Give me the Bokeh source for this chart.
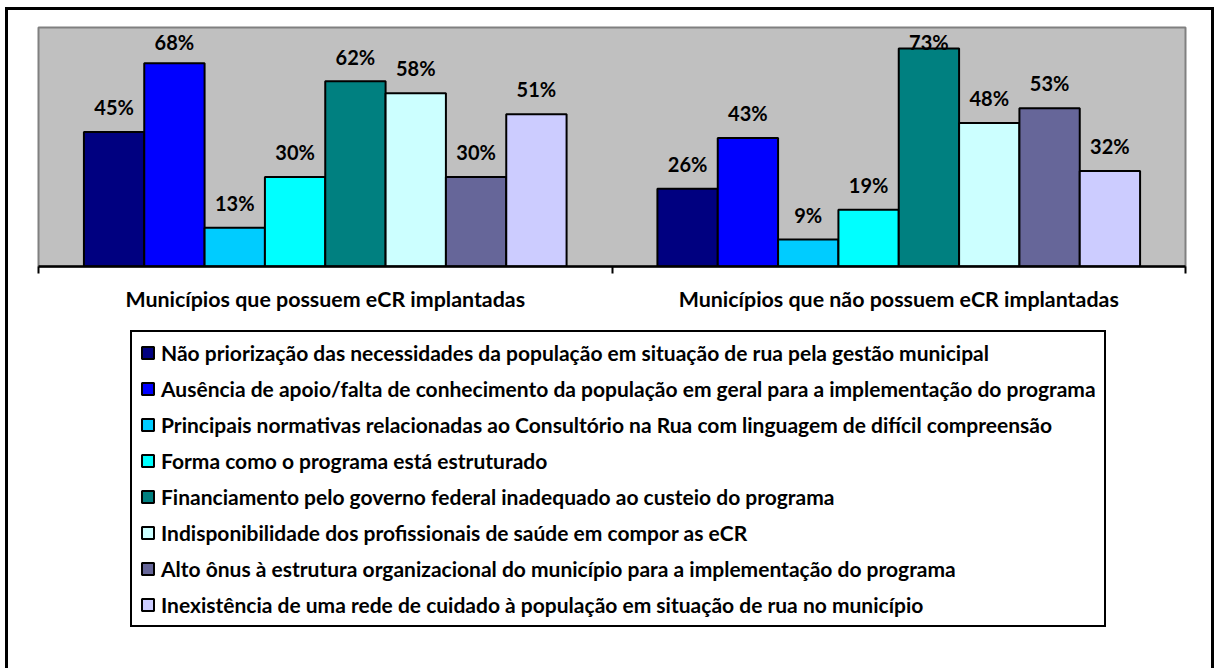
from bokeh.plotting import figure
from bokeh.layouts import column
from bokeh.models import (ColumnDataSource, LinearAxis, FixedTicker, Legend, LegendItem,
                          Range1d)
from bokeh.core.properties import value
from bokeh.embed import file_html
from bokeh.resources import INLINE

categories = ["Municípios que possuem eCR implantadas",
              "Municípios que não possuem eCR implantadas"]
series_names = [
    "Não priorização das necessidades da população em situação de rua pela gestão municipal",
    "Ausência de apoio/falta de conhecimento da população em geral para a implementação do programa",
    "Principais normativas relacionadas ao Consultório na Rua com linguagem de difícil compreensão",
    "Forma como o programa está estruturado",
    "Financiamento pelo governo federal inadequado ao custeio do programa",
    "Indisponibilidade dos profissionais de saúde em compor as eCR",
    "Alto ônus à estrutura organizacional do município para a implementação do programa",
    "Inexistência de uma rede de cuidado à população em situação de rua no município",
]
values_com_ecr = [45, 68, 13, 30, 62, 58, 30, 51]
values_sem_ecr = [26, 43, 9, 19, 73, 48, 53, 32]
colors = ["#000080", "#0000FF", "#00CCFF", "#00FFFF", "#008080", "#CCFFFF", "#666699", "#CCCCFF"]

FONT = "Lato"
YMAX = 80
BAR_W = 0.1052
n = len(series_names)

# ---- chart ----
p = figure(width=1203, height=310, x_range=Range1d(0, 2), y_range=Range1d(0, YMAX),
           x_axis_location=None, y_axis_location=None,
           output_backend="svg", toolbar_location=None,
           min_border_left=30, min_border_right=26, min_border_top=17, min_border_bottom=54,
           background_fill_color="#C0C0C0", border_fill_color="white")
p.grid.visible = False
p.outline_line_color = "#808080"
p.outline_line_width = 2

for j in range(n):
    vals = [values_com_ecr[j], values_sem_ecr[j]]
    xs = [i + 0.5 + (j - (n - 1) / 2) * BAR_W for i in range(len(categories))]
    lab_y = [min(v + 12.3, YMAX - 1.0) for v in vals]
    src = ColumnDataSource(dict(x=xs, top=vals, ly=lab_y, txt=[f"{v}%" for v in vals]))
    p.vbar(x="x", top="top", width=BAR_W, bottom=0, source=src,
           fill_color=colors[j], line_color="black", line_width=2)
    p.text(x="x", y="ly", text="txt", source=src, text_align="center", text_baseline="top",
           text_font=value(FONT), text_font_style="bold", text_font_size="20px",
           text_color="black")

axis = LinearAxis(ticker=FixedTicker(ticks=[0.5, 1.5], minor_ticks=[0, 1, 2]),
                  major_label_overrides={0.5: categories[0], 1.5: categories[1]},
                  major_tick_in=0, major_tick_out=0, minor_tick_in=0, minor_tick_out=7,
                  minor_tick_line_color="black", minor_tick_line_width=2,
                  axis_line_color="black", axis_line_width=2.5,
                  major_label_standoff=12,
                  major_label_text_font=FONT, major_label_text_font_style="bold",
                  major_label_text_font_size="21.4px", major_label_text_color="black")
p.add_layout(axis, "below")

# ---- legend ----
q = figure(width=1203, height=348, x_range=Range1d(0, 1), y_range=Range1d(0, 1),
           x_axis_location=None, y_axis_location=None,
           output_backend="svg", toolbar_location=None, min_border=0,
           background_fill_color="white", border_fill_color="white")
q.grid.visible = False
q.outline_line_color = None
items = []
for j in range(n):
    # small swatch-source bar hidden behind the (opaque) legend box
    r = q.vbar(x=[0.5], top=[0.5], bottom=0.45, width=0.02,
               fill_color=colors[j], line_color="black", line_width=2)
    items.append(LegendItem(label=series_names[j], renderers=[r]))

legend = Legend(items=items, location=(92, 41), orientation="vertical",
                border_line_color="black", border_line_width=2.5, border_line_alpha=1,
                background_fill_color="white", background_fill_alpha=1,
                label_text_font=FONT, label_text_font_style="bold",
                label_text_font_size="21px", label_text_color="black",
                glyph_width=15, glyph_height=15, label_standoff=6,
                label_height=20, spacing=11, padding=8, margin=0)
q.add_layout(legend, "center")

layout = column(p, q, spacing=0,
                styles={"margin-left": "5px", "margin-top": "7px",
                        "border-top": "3px solid black", "border-left": "3px solid black",
                        "border-right": "3px solid black"})

open("out.html", "w").write(file_html(layout, INLINE))
